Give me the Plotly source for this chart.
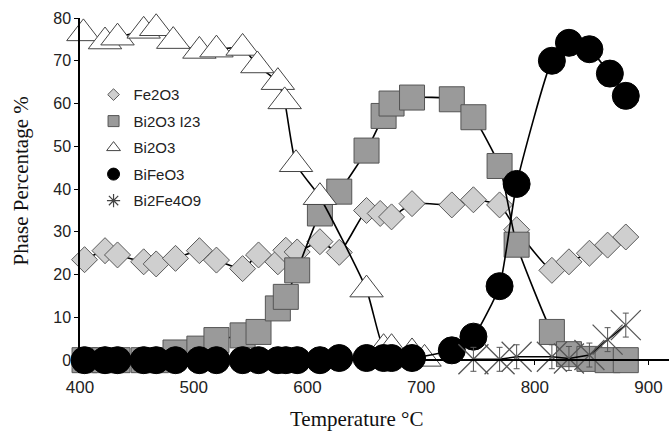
import plotly.graph_objects as go

# ---- data ----
fe2o3_t = [404, 422, 433, 456, 467, 484, 505, 520, 543, 557, 574, 581, 591, 611, 628,
           652, 664, 674, 692, 727, 746, 769, 784, 815, 830, 848, 864, 880]
fe2o3_p = [23.5, 25.6, 24.6, 23.0, 22.5, 23.8, 25.6, 23.4, 21.4, 24.6, 23.0, 25.7, 25.3, 27.7, 25.2,
           35.0, 34.3, 33.5, 36.6, 36.3, 37.5, 36.3, 30.5, 21.0, 23.0, 25.0, 26.9, 28.8]

i23_t = [404, 422, 433, 456, 467, 484, 505, 520, 543, 557, 574, 581, 591, 611, 628,
         652, 667, 674, 692, 727, 746, 769, 784, 815, 830, 848, 864, 880]
i23_p = [0, 0, 0, 0, 0, 1.8, 2.7, 4.7, 5.8, 6.6, 12.1, 14.8, 21.0, 34.3, 39.4,
         49.0, 57.1, 60.0, 61.4, 61.0, 56.8, 45.4, 27.0, 6.6, 1.4, 0.3, 0, 0]

bi2o3_t = [403, 422, 433, 456, 467, 482, 505, 520, 543, 556, 574, 580, 590, 611,
           652, 667, 674, 692, 703]
bi2o3_p = [76.4, 74.5, 75.4, 77.0, 77.6, 74.6, 72.3, 72.6, 73.0, 68.9, 65.0, 60.5, 45.8, 38.1,
           16.5, 2.8, 2.8, 1.8, 0.3]

bfo_t = [404, 422, 433, 456, 467, 484, 505, 520, 543, 557, 574, 581, 591, 611, 628,
         652, 667, 674, 692, 727, 746, 769, 784, 815, 830, 848, 866, 880]
bfo_p = [0, 0, 0, 0, 0, 0, 0, 0, 0, 0, 0, 0, 0, 0, 0.5,
         0.5, 0.5, 0.5, 0.5, 2.3, 5.5, 17.3, 41.2, 70.0, 74.2, 72.7, 67.0, 61.8]

b2f4_t = [746, 769, 784, 815, 830, 848, 864, 880]
b2f4_p = [0.2, 0.2, 0.8, 0.8, 0.4, 1.2, 4.8, 8.2]
b2f4_err = [2.8, 2.8, 2.8, 2.8, 2.8, 2.8, 2.8, 2.8]

series_names = ["Fe2O3", "Bi2O3 I23", "Bi2O3", "BiFeO3", "Bi2Fe4O9"]
x_ticks = [400, 500, 600, 700, 800, 900]
y_ticks = [0, 10, 20, 30, 40, 50, 60, 70, 80]

# ---- styles ----
LINE = dict(color="black", width=1.6, shape="spline", smoothing=0.5)
LINE_STRAIGHT = dict(color="black", width=1.6, shape="linear")
SANS = "Liberation Sans, Arial, sans-serif"
SERIF = "Liberation Serif, Times New Roman, serif"

styles = [
    dict(symbol="diamond", size=20, color="#cfcfcf", line=dict(color="#5a5a5a", width=1)),
    dict(symbol="square", size=25, color="#9a9a9a", line=dict(color="#555555", width=1)),
    dict(symbol="triangle-up", size=29, color="white", line=dict(color="#444444", width=1)),
    dict(symbol="circle", size=27, color="black", line=dict(color="black", width=1)),
    dict(symbol="x-thin-open", size=30, color="#555555", line=dict(color="#555555", width=1.3)),
]
legend_styles = [
    dict(symbol="diamond", size=9, color="#cfcfcf", line=dict(color="#5a5a5a", width=1)),
    dict(symbol="square", size=11, color="#9a9a9a", line=dict(color="#555555", width=1)),
    dict(symbol="triangle-up", size=12, color="white", line=dict(color="#444444", width=1)),
    dict(symbol="circle", size=12, color="black", line=dict(color="black", width=1)),
    dict(symbol="asterisk-open", size=11, color="#444444", line=dict(color="#444444", width=1.2)),
]

fig = go.Figure()
data = [(fe2o3_t, fe2o3_p), (i23_t, i23_p), (bi2o3_t, bi2o3_p), (bfo_t, bfo_p), (b2f4_t, b2f4_p)]
for i, (t, p) in enumerate(data):
    kw = {}
    if i == 4:
        kw["error_y"] = dict(type="data", array=b2f4_err, visible=True,
                             color="#555555", thickness=1, width=3)
    fig.add_trace(go.Scatter(x=t, y=p, mode="lines+markers", name=series_names[i],
                             line=LINE_STRAIGHT if i == 4 else LINE,
                             marker=styles[i], showlegend=False,
                             cliponaxis=False, **kw))

for i, name in enumerate(series_names):
    fig.add_trace(go.Scatter(x=[None], y=[None], mode="markers", name=name,
                             marker=legend_styles[i], legendgroup=name, showlegend=True))

ymin, ymax = -3, 80
fig.update_layout(
    width=669, height=431,
    margin=dict(l=80, r=0, t=18, b=58),
    paper_bgcolor="white", plot_bgcolor="white",
    showlegend=True,
    legend=dict(x=0.023, y=0.83, xanchor="left", yanchor="top",
                font=dict(family=SANS, size=15, color="#222222"),
                bgcolor="rgba(0,0,0,0)", itemwidth=30, tracegroupgap=4,
                itemsizing="trace"),
    xaxis=dict(range=[400, 918], tickvals=x_ticks, ticks="outside", ticklen=4,
               tickcolor="black", showline=True, linecolor="black", linewidth=1.5,
               showgrid=False, zeroline=False, anchor="free",
               position=(0 - ymin) / (ymax - ymin), ticklabelstandoff=8,
               tickfont=dict(family=SANS, size=17, color="#222222")),
    yaxis=dict(range=[ymin, ymax], tickvals=y_ticks, ticks="outside", ticklen=4,
               tickcolor="black", showline=True, linecolor="black", linewidth=1.5,
               showgrid=False, zeroline=False,
               tickfont=dict(family=SANS, size=16, color="#222222")),
    annotations=[
        dict(text="Temperature °C", xref="paper", yref="paper", x=0.469, y=-0.13,
             xanchor="center", yanchor="middle", showarrow=False,
             font=dict(family=SERIF, size=21, color="#111111")),
        dict(text="Phase Percentage %", xref="paper", yref="paper", x=-0.1, y=0.54,
             xanchor="center", yanchor="middle", showarrow=False, textangle=-90,
             font=dict(family=SERIF, size=21, color="#111111")),
    ],
)

fig.write_html("out.html", config={"displayModeBar": False},
               post_script="document.body.style.margin='0';")
